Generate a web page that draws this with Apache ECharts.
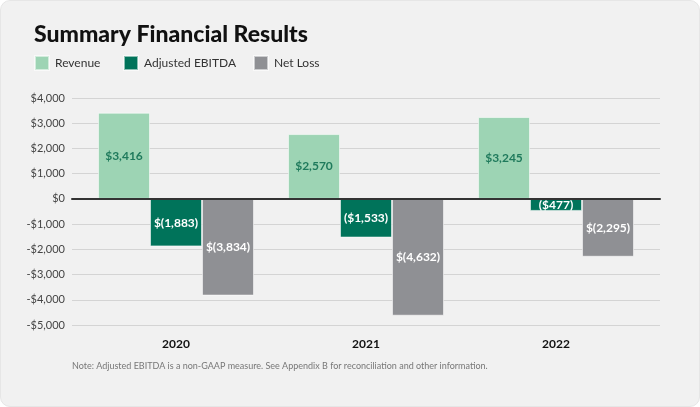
<!DOCTYPE html>
<html>
<head>
<meta charset="utf-8">
<script src="https://cdn.jsdelivr.net/npm/echarts@6/dist/echarts.min.js"></script>
<style>
html,body{margin:0;padding:0;background:#ffffff;}
#card{position:absolute;left:0;top:0;width:698px;height:405px;background:#f1f1f1;border:1px solid #e6e6e6;border-radius:10px;}
#chart{position:absolute;left:0;top:0;width:700px;height:407px;}
</style>
</head>
<body>
<div id="card"></div>
<div id="chart"></div>
<script>
const categories = ['2020', '2021', '2022'];
const seriesNames = ['Revenue', 'Adjusted EBITDA', 'Net Loss'];
const revenue = [3416, 2570, 3245];
const ebitda = [-1883, -1533, -477];
const netLoss = [-3834, -4632, -2295];
const revenueLabels = ['$3,416', '$2,570', '$3,245'];
const ebitdaLabels = ['$(1,883)', '($1,533)', '($477)'];
const netLossLabels = ['$(3,834)', '$(4,632)', '$(2,295)'];
const yTicks = { min: -5000, max: 4000, interval: 1000 };

const FONT = 'Lato, "Open Sans", sans-serif';
function fmt(v){
  const a = Math.abs(v).toLocaleString('en-US');
  return (v < 0 ? '-' : '') + '$' + a;
}
const legendLefts = [34, 123, 253];
const chart = echarts.init(document.getElementById('chart'), null, {renderer:'canvas'});
const option = {
  backgroundColor: 'transparent',
  textStyle: {fontFamily: FONT},
  animation: false,
  title: {
    text: 'Summary Financial Results',
    left: 29, top: 18,
    textStyle: {fontFamily: FONT, fontSize: 23, fontWeight: 900, color: '#111'}
  },
  legend: seriesNames.map((n, i) => ({
    left: legendLefts[i], top: 55, padding: 0,
    itemWidth: 14, itemHeight: 14, icon: 'rect',
    textStyle: {fontFamily: FONT, fontSize: 12, color: '#333', padding: [0,0,0,1]},
    data: [n]
  })),
  grid: [
    {left: 72, right: 40, top: 98, bottom: 82},
    {left: 81, right: 49, top: 98, bottom: 82}
  ],
  xAxis: [
    {gridIndex: 0, type: 'value', min: 0, max: 1, z: 10,
     axisLine: {show: true, onZero: true, lineStyle: {color: '#333', width: 2}},
     axisTick: {show: false}, axisLabel: {show: false}, splitLine: {show: false}},
    {gridIndex: 1, type: 'category', data: categories,
     axisLine: {show: false}, axisTick: {show: false},
     axisLabel: {margin: 13, fontFamily: FONT, fontSize: 12, fontWeight: 'bold', color: '#111'}}
  ],
  yAxis: [
    {gridIndex: 0, type: 'value', min: yTicks.min, max: yTicks.max, interval: yTicks.interval,
     axisLine: {show: false}, axisTick: {show: false},
     axisLabel: {margin: 7, fontFamily: FONT, fontSize: 11, color: '#444', formatter: fmt},
     splitLine: {lineStyle: {color: '#d4d4d4', width: 1}}},
    {gridIndex: 1, type: 'value', min: yTicks.min, max: yTicks.max, interval: yTicks.interval,
     show: false, splitLine: {show: false}}
  ],
  series: [
    {name: seriesNames[0], type: 'bar', xAxisIndex: 1, yAxisIndex: 1, data: revenue,
     barWidth: 52, barGap: '0%',
     itemStyle: {color: '#9dd4b4', borderColor: 'rgba(255,255,255,0.55)', borderWidth: 1},
     label: {show: true, position: 'inside', fontFamily: FONT, fontSize: 12, fontWeight: 'bold', color: '#1f7a5c',
             formatter: p => revenueLabels[p.dataIndex]}},
    {name: seriesNames[1], type: 'bar', xAxisIndex: 1, yAxisIndex: 1, data: ebitda,
     barWidth: 52, barGap: '0%',
     itemStyle: {color: '#00735a', borderColor: 'rgba(255,255,255,0.55)', borderWidth: 1},
     label: {show: true, position: 'inside', fontFamily: FONT, fontSize: 12, fontWeight: 'bold', color: '#fff',
             formatter: p => ebitdaLabels[p.dataIndex]}},
    {name: seriesNames[2], type: 'bar', xAxisIndex: 1, yAxisIndex: 1, data: netLoss,
     barWidth: 52, barGap: '0%',
     itemStyle: {color: '#8f9094', borderColor: 'rgba(255,255,255,0.55)', borderWidth: 1},
     label: {show: true, position: 'inside', fontFamily: FONT, fontSize: 12, fontWeight: 'bold', color: '#fff',
             formatter: p => netLossLabels[p.dataIndex]}}
  ],
  graphic: [
    {type: 'text', left: 72, top: 362,
     style: {text: 'Note: Adjusted EBITDA is a non-GAAP measure. See Appendix B for reconciliation and other information.',
             fontFamily: FONT, fontSize: 9, fill: '#777'}}
  ]
};
chart.setOption(option);
</script>
</body>
</html>
